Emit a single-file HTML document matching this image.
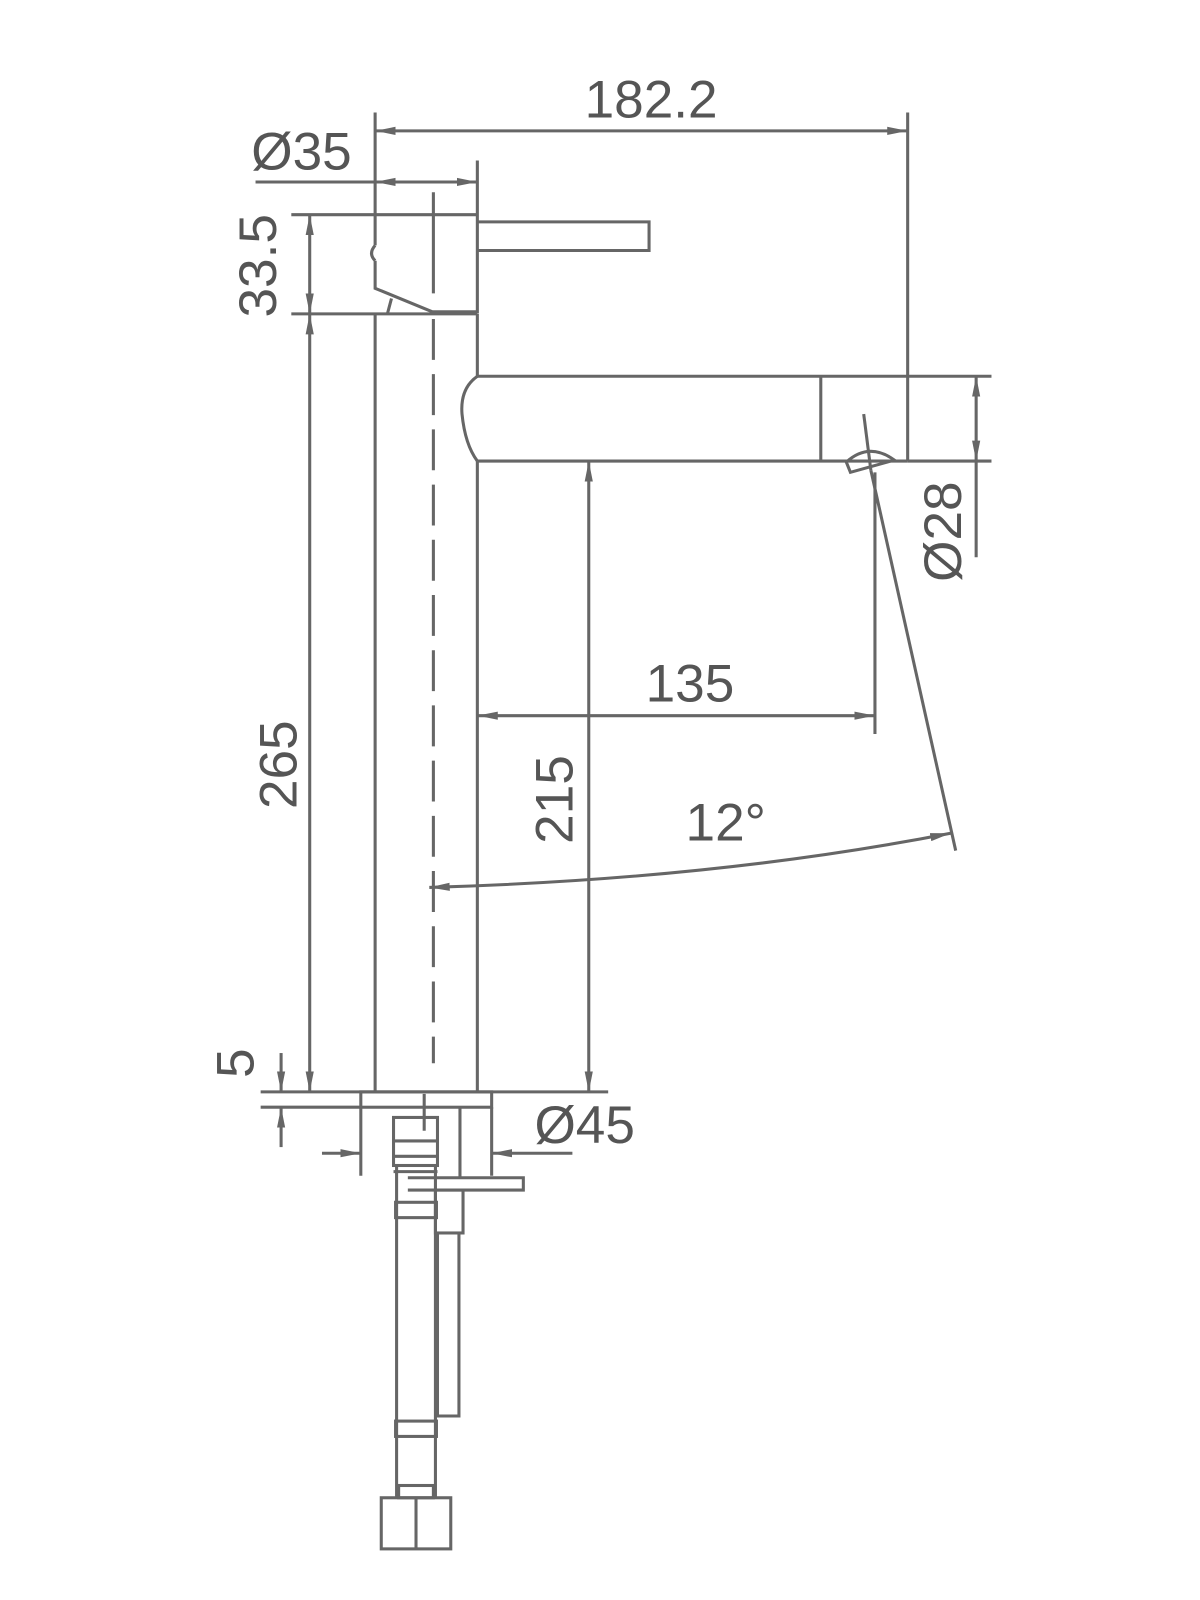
<!DOCTYPE html>
<html><head><style>html,body{margin:0;background:#fff}svg{display:block}</style></head>
<body>
<svg width="1200" height="1600" viewBox="0 0 1174 1565" preserveAspectRatio="none" xmlns="http://www.w3.org/2000/svg">
<defs>
<marker id="a" viewBox="0 0 20 10" refX="20" refY="5" markerWidth="20" markerHeight="10" markerUnits="userSpaceOnUse" orient="auto-start-reverse"><path d="M0,1 L20,5 L0,9 z" fill="#666"/></marker>
</defs>
<g stroke="#666" stroke-width="3" fill="none">
<line x1="367" y1="307" x2="367" y2="1068"/>
<line x1="467" y1="307" x2="467" y2="368"/>
<line x1="467" y1="451" x2="467" y2="1068"/>
<path d="M367,110 V240 M367,255 V282 L423,305 H467 V157"/>
<path d="M367,240 Q360,248 367,255"/>
<line x1="285" y1="210" x2="467" y2="210"/>
<line x1="285" y1="307" x2="467" y2="307"/>
<line x1="383" y1="292" x2="379" y2="307"/>
<path d="M467,217 H635 V245 H467"/>
<line x1="424" y1="188" x2="424" y2="287"/>
<line x1="424" y1="312" x2="424" y2="1040" stroke-dasharray="40,14"/>
<path d="M467,368 H888 M467,451 H888 M888,110 V451 M803,368 V451"/>
<path d="M467,368 Q450,380 452,405 Q455,435 467,451"/>
<path d="M828,452 Q850,432 875,450 L832,462 Z"/>
<line x1="845" y1="405" x2="852" y2="460"/>
<line x1="367" y1="128" x2="888" y2="128" marker-start="url(#a)" marker-end="url(#a)"/>
<line x1="250" y1="178" x2="367" y2="178"/>
<line x1="367" y1="178" x2="467" y2="178" marker-start="url(#a)" marker-end="url(#a)"/>
<line x1="303" y1="210" x2="303" y2="307" marker-start="url(#a)" marker-end="url(#a)"/>
<line x1="303" y1="307" x2="303" y2="1068" marker-start="url(#a)" marker-end="url(#a)"/>
<line x1="255" y1="1068" x2="595" y2="1068"/>
<line x1="255" y1="1083" x2="353" y2="1083"/>
<line x1="275" y1="1030" x2="275" y2="1068" marker-end="url(#a)"/>
<line x1="275" y1="1122" x2="275" y2="1083" marker-end="url(#a)"/>
<rect x="353" y="1068" width="128" height="15"/>
<line x1="353" y1="1083" x2="353" y2="1150"/>
<line x1="481" y1="1083" x2="481" y2="1150"/>
<line x1="315" y1="1128" x2="353" y2="1128" marker-end="url(#a)"/>
<line x1="560" y1="1128" x2="481" y2="1128" marker-end="url(#a)"/>
<line x1="576" y1="451" x2="576" y2="1068" marker-start="url(#a)" marker-end="url(#a)"/>
<line x1="467" y1="700" x2="856" y2="700" marker-start="url(#a)" marker-end="url(#a)"/>
<line x1="856" y1="462" x2="856" y2="718"/>
<line x1="888" y1="368" x2="970" y2="368"/>
<line x1="888" y1="451" x2="970" y2="451"/>
<line x1="955" y1="368" x2="955" y2="451" marker-start="url(#a)" marker-end="url(#a)"/>
<line x1="955" y1="451" x2="955" y2="545"/>
<line x1="852" y1="460" x2="935" y2="832"/>
<path d="M420,868 Q700,860 930,815" marker-start="url(#a)" marker-end="url(#a)"/>
<!-- under-counter -->
<rect x="385" y="1093" width="43" height="47"/>
<line x1="385" y1="1116" x2="428" y2="1116"/>
<line x1="450" y1="1083" x2="450" y2="1152"/>
<line x1="415" y1="1070" x2="415" y2="1106"/>
<path d="M388,1140 V1465 M426,1140 V1465"/>
<path d="M385,1131 H428 M385,1146 H428"/>
<path d="M399,1152 H512 V1164 H399"/>
<rect x="387" y="1176" width="40" height="15"/>
<rect x="426" y="1164" width="27" height="42"/>
<path d="M428,1206 V1385 H449 V1206"/>
<rect x="387" y="1390" width="40" height="15"/>
<rect x="390" y="1453" width="34" height="12"/>
<rect x="373" y="1465" width="68" height="50"/>
<line x1="407" y1="1465" x2="407" y2="1515"/>
</g>
<g font-family="Liberation Sans, sans-serif" font-size="52" fill="#555">
<text x="637" y="115" text-anchor="middle">182.2</text>
<text x="295" y="166" text-anchor="middle">Ø35</text>
<text x="675" y="686" text-anchor="middle">135</text>
<text x="710" y="822" text-anchor="middle">12°</text>
<text x="572" y="1118" text-anchor="middle">Ø45</text>
<text transform="translate(270,260) rotate(-90)" text-anchor="middle">33.5</text>
<text transform="translate(290,748) rotate(-90)" text-anchor="middle">265</text>
<text transform="translate(560,782) rotate(-90)" text-anchor="middle">215</text>
<text transform="translate(248,1040) rotate(-90)" text-anchor="middle">5</text>
<text transform="translate(940,520) rotate(-90)" text-anchor="middle">Ø28</text>
</g>
</svg>
</body></html>
